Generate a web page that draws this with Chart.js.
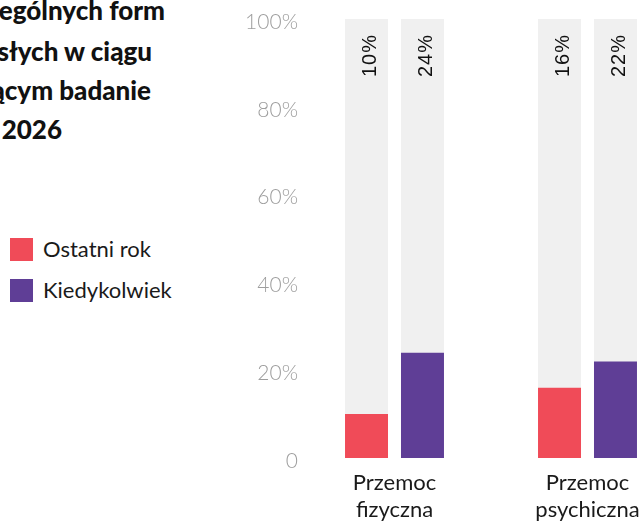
<!DOCTYPE html>
<html lang="pl">
<head>
<meta charset="utf-8">
<script src="https://cdn.jsdelivr.net/npm/chart.js@4"></script>
<style>
  html, body { margin: 0; padding: 0; background: #fff; }
  body { width: 640px; height: 522px; overflow: hidden; position: relative; font-family: Lato, sans-serif; color: #1a1a1a; }
  .title-line { position: absolute; white-space: nowrap; font-weight: 900; font-size: 26px; line-height: 31px; color: #111; }
  #legend { position: absolute; left: 10px; top: 238px; }
  .leg-item { position: relative; height: 41px; }
  .leg-box { position: absolute; left: 0; top: 0; width: 23px; height: 23px; }
  .leg-text { position: absolute; left: 33px; top: -2px; font-size: 22px; line-height: 26px; white-space: nowrap; }
  #chart { position: absolute; left: 0; top: 0; }
</style>
</head>
<body>
<div id="title"></div>
<div id="legend"></div>
<canvas id="chart" width="700" height="522"></canvas>
<script>
'use strict';

// chart data
const categories = [['Przemoc', 'fizyczna'], ['Przemoc', 'psychiczna']];
const seriesNames = ['Ostatni rok', 'Kiedykolwiek'];
const lastYear = [10, 16]; //      % w ostatnim roku
const ever = [24, 22]; //          % kiedykolwiek
const yMax = 100;
const yStep = 20;

// title (left part runs off the picture)
const titleLines = [
  'Odsetek dorosłych ofiar szczególnych form',
  'przemocy wśród dorosłych w ciągu',
  'roku poprzedzającym badanie',
  'Polska, 2026'
];
const titleEnds = [165, 152, 151, 62]; //   right edge of each line
const titleBaselines = [19, 59.5, 98.5, 138];

const colors = ['#f04b58', '#5f3e96'];
const trackColor = '#f0f0f0';

// building the title
const titleBox = document.getElementById('title');
for (let i = 0; i < titleLines.length; i++) {
  const line = document.createElement('div');
  line.className = 'title-line';
  line.textContent = titleLines[i];
  line.style.right = (640 - titleEnds[i]) + 'px';
  line.style.top = (titleBaselines[i] - 24) + 'px';
  titleBox.appendChild(line);
}

// building the legend
const legendBox = document.getElementById('legend');
for (let i = 0; i < seriesNames.length; i++) {
  const item = document.createElement('div');
  item.className = 'leg-item';
  item.innerHTML = `<div class="leg-box" style="background:${colors[i]}"></div><div class="leg-text">${seriesNames[i]}</div>`;
  legendBox.appendChild(item);
}

// grey track behind each bar, from 0 to 100%
const trackPlugin = {
  id: 'track',
  beforeDatasetsDraw(chart) {
    const ctx = chart.ctx;
    const y = chart.scales.y;
    const top = y.getPixelForValue(yMax);
    const bottom = y.getPixelForValue(0);
    ctx.save();
    ctx.fillStyle = trackColor;
    chart.data.datasets.forEach((ds, i) => {
      chart.getDatasetMeta(i).data.forEach(bar => {
        ctx.fillRect(bar.x - bar.width / 2, top, bar.width, bottom - top);
      });
    });
    ctx.restore();
  }
};

// rotated value labels at the top of each track
const valuePlugin = {
  id: 'values',
  afterDatasetsDraw(chart) {
    const ctx = chart.ctx;
    const top = chart.scales.y.getPixelForValue(yMax);
    ctx.save();
    ctx.fillStyle = '#111';
    ctx.font = '400 20px "Liberation Sans", Arial, sans-serif';
    ctx.letterSpacing = '1px';
    ctx.textAlign = 'right';
    ctx.textBaseline = 'alphabetic';
    chart.data.datasets.forEach((ds, i) => {
      chart.getDatasetMeta(i).data.forEach((bar, j) => {
        ctx.save();
        ctx.translate(bar.x + 9.5, top + 15);
        ctx.rotate(-Math.PI / 2);
        ctx.fillText(ds.data[j] + '%', 0, 0);
        ctx.restore();
      });
    });
    ctx.restore();
  }
};

new Chart(document.getElementById('chart'), {
  type: 'bar',
  data: {
    labels: categories,
    datasets: [
      { label: seriesNames[0], data: lastYear, backgroundColor: colors[0] },
      { label: seriesNames[1], data: ever, backgroundColor: colors[1] }
    ]
  },
  options: {
    responsive: false,
    animation: false,
    devicePixelRatio: 1,
    layout: { padding: { top: 19, right: 16, bottom: 0, left: 0 } },
    datasets: {
      bar: { categoryPercentage: 0.58, barPercentage: 0.768, borderWidth: 0 }
    },
    plugins: {
      legend: { display: false },
      tooltip: { enabled: false }
    },
    scales: {
      x: {
        grid: { display: false, drawTicks: false },
        border: { display: false },
        ticks: {
          color: '#1a1a1a',
          font: { family: 'Lato', size: 22, lineHeight: 1.2 },
          padding: 12,
          maxRotation: 0
        },
        afterFit(scale) { scale.height = 64; }
      },
      y: {
        min: 0,
        max: yMax,
        grid: { display: false, drawTicks: false },
        border: { display: false },
        ticks: {
          stepSize: yStep,
          color: '#9e9e9e',
          font: { family: 'Lato', size: 21, weight: 300 },
          padding: 0,
          labelOffset: 3,
          callback: v => v === 0 ? '0' : v + '%'
        },
        afterFit(scale) { scale.width = 298; }
      }
    }
  },
  plugins: [trackPlugin, valuePlugin]
});
</script>
</body>
</html>
